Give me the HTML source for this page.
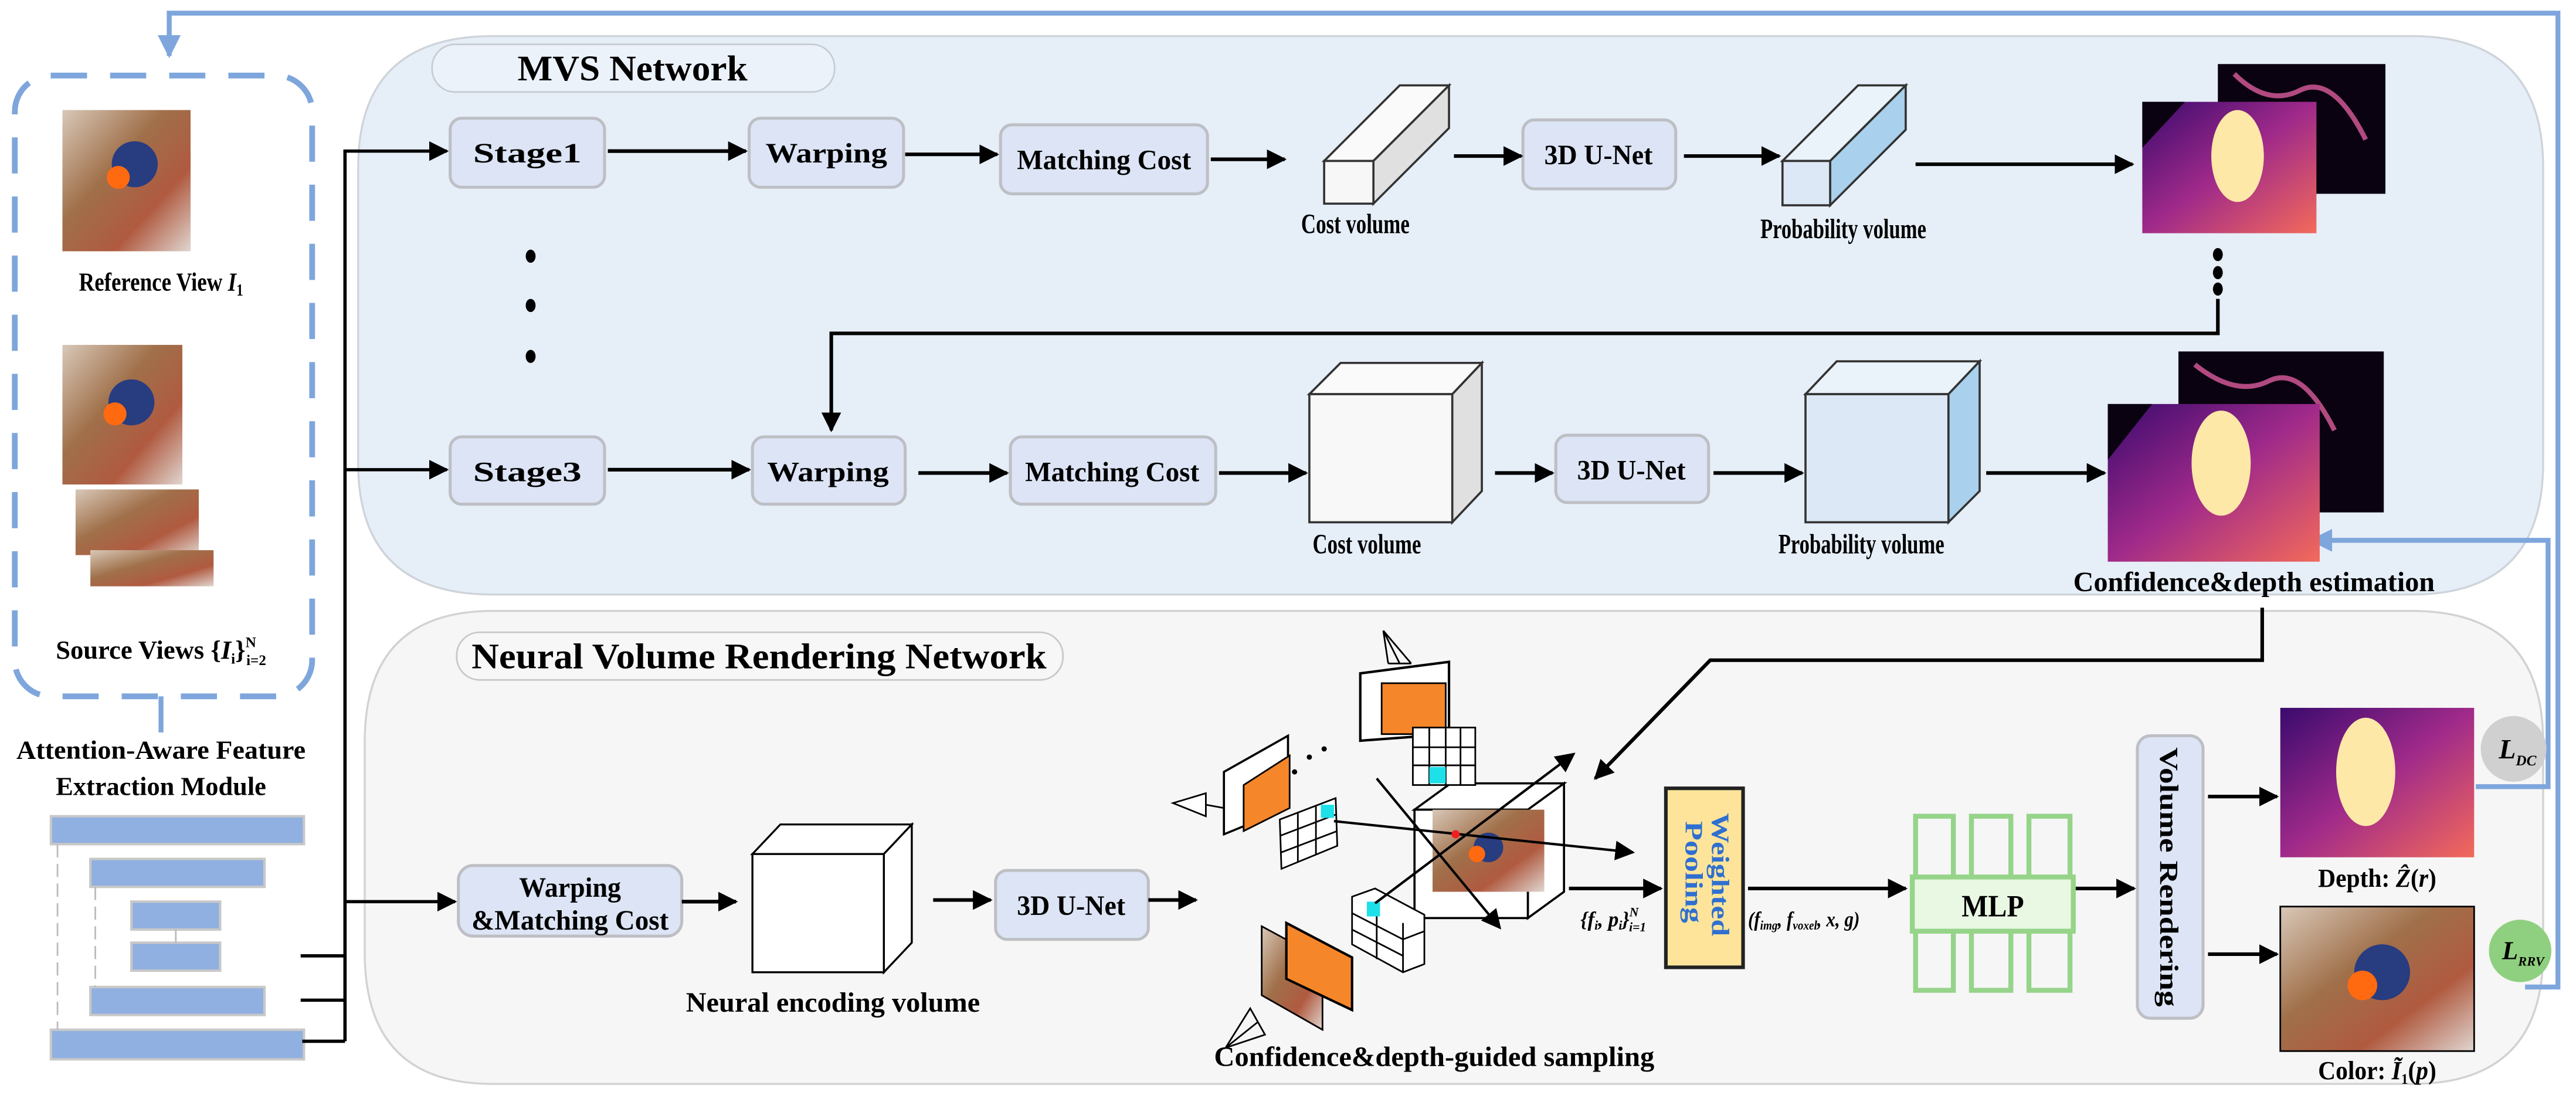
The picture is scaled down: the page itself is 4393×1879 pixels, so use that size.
<!DOCTYPE html>
<html><head><meta charset="utf-8"><style>
html,body{margin:0;padding:0;background:#fff}
svg{display:block}
text{font-family:"Liberation Serif",serif;font-weight:bold;fill:#000}
</style></head><body>
<svg width="4393" height="1879" viewBox="0 0 1568 671" preserveAspectRatio="none" xmlns="http://www.w3.org/2000/svg">
<defs>
<marker id="a" viewBox="0 0 10 10" refX="9" refY="5" markerWidth="12" markerHeight="12" orient="auto" markerUnits="userSpaceOnUse"><path d="M0,0L10,5L0,10z" fill="#000"/></marker>
<marker id="ab" viewBox="0 0 10 10" refX="9" refY="5" markerWidth="14" markerHeight="14" orient="auto" markerUnits="userSpaceOnUse"><path d="M0,0L10,5L0,10z" fill="#7ea6dc"/></marker>
<linearGradient id="dm" x1="0" y1="0" x2="1" y2="1"><stop offset="0" stop-color="#3a0a6e"/><stop offset="0.5" stop-color="#a02a8a"/><stop offset="1" stop-color="#f36a5a"/></linearGradient>
<linearGradient id="ph" x1="0" y1="0" x2="1" y2="1"><stop offset="0" stop-color="#d8c8b8"/><stop offset="0.4" stop-color="#a0704a"/><stop offset="0.7" stop-color="#b05a40"/><stop offset="1" stop-color="#e0d6d0"/></linearGradient>
</defs>
<rect width="1568" height="671" fill="#fff"/>
<path d="M300,22 H1468 Q1548,22 1548,102 V282 Q1548,362 1468,362 H300 Q218,362 218,282 V102 Q218,22 300,22Z" fill="#e6eef8" stroke="#cfd4da" stroke-width="1.2"/>
<path d="M300,372 H1468 Q1548,372 1548,452 V580 Q1548,660 1468,660 H300 Q222,660 222,580 V452 Q222,372 300,372Z" fill="#f6f6f6" stroke="#d2d2d2" stroke-width="1.2"/>
<rect x="263" y="27" width="245" height="29" rx="14" fill="#ecf2fa" stroke="#c8ccd2"/>
<text x="385" y="49" font-size="22" text-anchor="middle" textLength="140" lengthAdjust="spacingAndGlyphs">MVS Network</text>
<rect x="278" y="385" width="369" height="29" rx="14" fill="#f7f7f7" stroke="#c8c8c8"/>
<text x="462" y="407" font-size="22" text-anchor="middle" textLength="350" lengthAdjust="spacingAndGlyphs">Neural Volume Rendering Network</text>

<g fill="none" stroke="#7ea6dc" stroke-width="3">
<path d="M1537,601 H1557 V8 H103 V34" marker-end="url(#ab)"/>
<path d="M1507,479 H1551 V329 H1407" marker-end="url(#ab)"/>
</g>

<rect x="9" y="46" width="181" height="378" rx="22" fill="none" stroke="#7ea6dc" stroke-width="3.5" stroke-dasharray="22,14"/>
<line x1="98" y1="424" x2="98" y2="446" stroke="#7ea6dc" stroke-width="3"/>
<rect x="38" y="67" width="78" height="86" fill="url(#ph)"/>
<circle cx="82" cy="100" r="14" fill="#283c80"/><circle cx="72" cy="108" r="7" fill="#ff6a10"/>
<rect x="38" y="210" width="73" height="85" fill="url(#ph)"/>
<circle cx="80" cy="245" r="14" fill="#283c80"/><circle cx="70" cy="252" r="7" fill="#ff6a10"/>
<rect x="46" y="298" width="75" height="40" fill="url(#ph)"/>
<rect x="55" y="335" width="75" height="22" fill="url(#ph)"/>
<text x="98" y="177" font-size="16" text-anchor="middle" textLength="100" lengthAdjust="spacingAndGlyphs">Reference View <tspan font-style="italic">I</tspan><tspan font-size="10" dy="3">1</tspan></text>
<text x="98" y="401" font-size="16" text-anchor="middle" textLength="128" lengthAdjust="spacingAndGlyphs">Source Views {<tspan font-style="italic">I</tspan><tspan font-size="9" dy="3">i</tspan><tspan dy="-3">}</tspan><tspan font-size="9" dy="-7">N</tspan><tspan font-size="9" dx="-6" dy="11">i=2</tspan></text>
<text x="98" y="462" font-size="16" text-anchor="middle" textLength="176" lengthAdjust="spacingAndGlyphs">Attention-Aware Feature</text>
<text x="98" y="484" font-size="16" text-anchor="middle" textLength="128" lengthAdjust="spacingAndGlyphs">Extraction Module</text>
<g fill="#8fb0e0" stroke="#c8c8c8" stroke-width="1.5">
<rect x="31" y="497" width="154" height="17"/>
<rect x="55" y="523" width="106" height="17"/>
<rect x="80" y="549" width="54" height="17"/>
<rect x="80" y="574" width="54" height="17"/>
<rect x="55" y="601" width="106" height="17"/>
<rect x="31" y="627" width="154" height="18"/>
</g>
<g stroke="#bbb" stroke-width="1" stroke-dasharray="8,4">
<line x1="35" y1="514" x2="35" y2="627"/><line x1="58" y1="540" x2="58" y2="601"/>
</g>
<line x1="107" y1="566" x2="107" y2="574" stroke="#bbb"/>

<g stroke="#000" stroke-width="2" fill="none">
<path d="M210,634 V92 H272" marker-end="url(#a)"/>
<path d="M210,286 H272" marker-end="url(#a)"/>
<path d="M210,549 H277" marker-end="url(#a)"/>
<line x1="184" y1="634" x2="210" y2="634"/>
<line x1="183" y1="609" x2="210" y2="609"/>
<line x1="183" y1="582" x2="210" y2="582"/>
</g>

<g fill="#dce4f5" stroke="#bdbfc4" stroke-width="1.8">
<rect x="274" y="72" width="94" height="42" rx="7"/>
<rect x="456" y="72" width="94" height="42" rx="7"/>
<rect x="609" y="76" width="126" height="42" rx="7"/>
<rect x="274" y="266" width="94" height="41" rx="7"/>
<rect x="458" y="266" width="93" height="41" rx="7"/>
<rect x="615" y="266" width="125" height="41" rx="7"/>
<rect x="927" y="73" width="93" height="42" rx="7"/>
<rect x="947" y="265" width="93" height="41" rx="7"/>
<rect x="279" y="527" width="136" height="43" rx="9"/>
<rect x="606" y="530" width="93" height="42" rx="7"/>
<rect x="1301" y="448" width="40" height="172" rx="8"/>
</g>
<g font-size="17" text-anchor="middle">
<text x="321" y="99" textLength="66" lengthAdjust="spacingAndGlyphs">Stage1</text>
<text x="503" y="99" textLength="74" lengthAdjust="spacingAndGlyphs">Warping</text>
<text x="672" y="103" textLength="106" lengthAdjust="spacingAndGlyphs">Matching Cost</text>
<text x="321" y="293" textLength="66" lengthAdjust="spacingAndGlyphs">Stage3</text>
<text x="504" y="293" textLength="74" lengthAdjust="spacingAndGlyphs">Warping</text>
<text x="677" y="293" textLength="106" lengthAdjust="spacingAndGlyphs">Matching Cost</text>
<text x="973" y="100" textLength="66" lengthAdjust="spacingAndGlyphs">3D U-Net</text>
<text x="993" y="292" textLength="66" lengthAdjust="spacingAndGlyphs">3D U-Net</text>
<text x="347" y="546" textLength="62" lengthAdjust="spacingAndGlyphs">Warping</text>
<text x="347" y="566" textLength="120" lengthAdjust="spacingAndGlyphs">&amp;Matching Cost</text>
<text x="652" y="557" textLength="66" lengthAdjust="spacingAndGlyphs">3D U-Net</text>
<text x="0" y="0" transform="translate(1315,534) rotate(90)" textLength="158" lengthAdjust="spacingAndGlyphs" font-size="16">Volume Rendering</text>
</g>

<g fill="#000"><ellipse cx="323" cy="156" rx="3" ry="4"/><ellipse cx="323" cy="186" rx="3" ry="4"/><ellipse cx="323" cy="217" rx="3" ry="4"/>
<ellipse cx="1350" cy="155" rx="3" ry="4"/><ellipse cx="1350" cy="166" rx="3" ry="4"/><ellipse cx="1350" cy="176" rx="3" ry="4"/></g>

<g stroke="#000" stroke-width="2.2" fill="none">
<path d="M370,92 H454" marker-end="url(#a)"/>
<path d="M551,94 H607" marker-end="url(#a)"/>
<path d="M737,97 H782" marker-end="url(#a)"/>
<path d="M885,95 H926" marker-end="url(#a)"/>
<path d="M1025,95 H1083" marker-end="url(#a)"/>
<path d="M1166,100 H1298" marker-end="url(#a)"/>
<path d="M370,286 H456" marker-end="url(#a)"/>
<path d="M559,288 H613" marker-end="url(#a)"/>
<path d="M742,288 H795" marker-end="url(#a)"/>
<path d="M910,288 H945" marker-end="url(#a)"/>
<path d="M1043,288 H1097" marker-end="url(#a)"/>
<path d="M1209,288 H1281" marker-end="url(#a)"/>
<path d="M1350,182 V203 H506 V262" marker-end="url(#a)"/>
</g>

<g stroke="#333" stroke-width="1.3">
<polygon points="806,98 852,52 882,52 836,98" fill="#fafafa"/>
<polygon points="836,98 882,52 882,78 836,124" fill="#e0e0e0"/>
<rect x="806" y="98" width="30" height="26" fill="#f7f7f7"/>
<polygon points="1085,98 1131,52 1160,52 1114,98" fill="#eaf2fa"/>
<polygon points="1114,98 1160,52 1160,79 1114,125" fill="#a9d0ec"/>
<rect x="1085" y="98" width="29" height="27" fill="#dce8f5"/>
<polygon points="797,240 816,221 902,221 884,240" fill="#fafafa"/>
<polygon points="884,240 902,221 902,299 884,318" fill="#e0e0e0"/>
<rect x="797" y="240" width="87" height="78" fill="#f8f8f8"/>
<polygon points="1099,240 1118,220 1205,220 1186,240" fill="#eaf2fa"/>
<polygon points="1186,240 1205,220 1205,299 1186,318" fill="#a9d0ec"/>
<rect x="1099" y="240" width="87" height="78" fill="#dce8f5"/>
</g>
<g stroke="#000" stroke-width="1.2" fill="#fff">
<polygon points="458,520 475,502 555,502 538,520"/>
<polygon points="538,520 555,502 555,574 538,592"/>
<rect x="458" y="520" width="80" height="72"/>
</g>
<g font-size="17" text-anchor="middle">
<text x="825" y="142" textLength="66" lengthAdjust="spacingAndGlyphs">Cost volume</text>
<text x="1122" y="145" textLength="101" lengthAdjust="spacingAndGlyphs">Probability volume</text>
<text x="832" y="337" textLength="66" lengthAdjust="spacingAndGlyphs">Cost volume</text>
<text x="1133" y="337" textLength="101" lengthAdjust="spacingAndGlyphs">Probability volume</text>
<text x="1372" y="360" textLength="220" lengthAdjust="spacingAndGlyphs">Confidence&amp;depth estimation</text>
<text x="507" y="616" textLength="179" lengthAdjust="spacingAndGlyphs">Neural encoding volume</text>
</g>

<rect x="1350" y="39" width="102" height="79" fill="#0a0210"/>
<path d="M1360,45 q20,20 40,10 t40,30" stroke="#b04a80" stroke-width="3" fill="none"/>
<rect x="1304" y="62" width="106" height="80" fill="url(#dm)"/>
<polygon points="1304,62 1330,62 1304,90" fill="#0a0210"/>
<ellipse cx="1362" cy="95" rx="16" ry="28" fill="#fde8a8"/>
<rect x="1326" y="214" width="125" height="98" fill="#0a0210"/>
<path d="M1336,222 q25,20 45,10 t40,30" stroke="#b04a80" stroke-width="3" fill="none"/>
<rect x="1283" y="246" width="129" height="96" fill="url(#dm)"/>
<polygon points="1283,246 1310,246 1283,280" fill="#0a0210"/>
<ellipse cx="1352" cy="282" rx="18" ry="32" fill="#fde8a8"/>

<g stroke="#000" stroke-width="1.3" fill="#fff">
<polygon points="861,493 883,477 952,477 930,493"/>
<polygon points="930,493 952,477 952,543 930,559"/>
<rect x="861" y="493" width="69" height="66"/>
</g>
<rect x="872" y="493" width="68" height="50" fill="url(#ph)"/>
<circle cx="906" cy="516" r="9" fill="#283c80"/><circle cx="899" cy="520" r="5" fill="#ff6a10"/>
<polygon points="828,410 882,403 882,447 828,451" fill="#fff" stroke="#000" stroke-width="1.5"/>
<rect x="841" y="416" width="39" height="31" fill="#f5862a" stroke="#000"/>
<path d="M842,384 L845,404 M842,384 L859,404 M842,384 L852,404 M845,404 H859" stroke="#000" fill="none"/>
<g stroke="#000" fill="#fff" stroke-width="1">
<rect x="860" y="443" width="38" height="35"/>
<path d="M860,455 H898 M860,466 H898 M870,443 V478 M880,443 V478 M889,443 V478"/>
</g>
<rect x="870" y="467" width="10" height="10" fill="#1ee0e8"/>
<polygon points="745,470 784,448 784,492 745,508" fill="#fff" stroke="#000" stroke-width="1.3"/>
<polygon points="757,478 785,460 785,492 757,506" fill="#f5862a" stroke="#000"/>
<path d="M714,489 L734,483 L734,497 Z M734,490 L745,492" stroke="#000" fill="#fff"/>
<polygon points="779,499 813,486 814,515 780,529" fill="#fff" stroke="#000"/>
<path d="M779,509 L813,496 M780,519 L814,506 M790,495 V525 M801,491 V520" stroke="#000"/>
<rect x="804" y="490" width="8" height="8" fill="#1ee0e8"/>
<circle cx="788" cy="470" r="1.6" fill="#000"/><circle cx="797" cy="461" r="1.6" fill="#000"/><circle cx="806" cy="456" r="1.6" fill="#000"/>
<polygon points="768,564 805,584 805,627 768,606" fill="url(#ph)" stroke="#000"/>
<polygon points="783,562 823,583 823,615 783,596" fill="#f5862a" stroke="#000" stroke-width="1.5"/>
<polygon points="823,546 837,541 867,557 867,587 854,592 823,575" fill="#fff" stroke="#000"/>
<path d="M823,556 L854,572 L867,567 M823,566 L854,582 M838,551 V584 M854,562 V592" stroke="#000" fill="none"/>
<rect x="832" y="549" width="8" height="9" fill="#1ee0e8"/>
<path d="M746,638 L761,614 L770,630 Z M746,638 L766,622" stroke="#000" fill="none"/>
<g stroke="#000" stroke-width="1.5" fill="none">
<path d="M838,474 L913,565" marker-end="url(#a)"/>
<path d="M812,500 L994,519" marker-end="url(#a)"/>
<path d="M837,550 L958,459" marker-end="url(#a)"/>
</g>
<circle cx="886" cy="508" r="2.5" fill="#f02020"/>
<text x="873" y="649" font-size="17" text-anchor="middle" textLength="268" lengthAdjust="spacingAndGlyphs">Confidence&amp;depth-guided sampling</text>
<g stroke="#000" stroke-width="2.2" fill="none">
<path d="M1377,370 V402 H1041 L971,474" marker-end="url(#a)"/>
<path d="M955,541 H1011" marker-end="url(#a)"/>
<path d="M1064,541 H1160" marker-end="url(#a)"/>
<path d="M699,548 H728" marker-end="url(#a)"/>
<path d="M415,549 H448" marker-end="url(#a)"/>
<path d="M568,548 H603" marker-end="url(#a)"/>
<path d="M1263,541 H1299" marker-end="url(#a)"/>
<path d="M1344,485 H1386" marker-end="url(#a)"/>
<path d="M1344,581 H1386" marker-end="url(#a)"/>
</g>
<text x="982" y="564" font-size="13" text-anchor="middle" font-style="italic" font-weight="normal" textLength="40" lengthAdjust="spacingAndGlyphs">{f<tspan font-size="8" dy="2">i</tspan><tspan dy="-2">, p</tspan><tspan font-size="8" dy="2">i</tspan><tspan dy="-2">}</tspan><tspan font-size="8" dy="-6">N</tspan><tspan font-size="8" dx="-6" dy="9">i=1</tspan></text>
<text x="1098" y="564" font-size="13" text-anchor="middle" font-style="italic" font-weight="normal" textLength="68" lengthAdjust="spacingAndGlyphs">(f<tspan font-size="8" dy="2">img</tspan><tspan dy="-2">, f</tspan><tspan font-size="8" dy="2">voxel</tspan><tspan dy="-2">, x, g)</tspan></text>
<rect x="1014" y="480" width="47" height="109" fill="#fde49a" stroke="#222" stroke-width="2.2"/>
<text transform="translate(1042,495) rotate(90)" font-size="15" style="fill:#2f6fd0" textLength="75" lengthAdjust="spacingAndGlyphs">Weighted</text>
<text transform="translate(1026,500) rotate(90)" font-size="15" style="fill:#2f6fd0" textLength="62" lengthAdjust="spacingAndGlyphs">Pooling</text>
<g fill="none" stroke="#96d48a" stroke-width="3">
<rect x="1166" y="497" width="23" height="106"/>
<rect x="1200" y="497" width="24" height="106"/>
<rect x="1235" y="497" width="25" height="106"/>
</g>
<rect x="1164" y="534" width="98" height="33" fill="#e8f8e2" stroke="#96d48a" stroke-width="3"/>
<text x="1213" y="558" font-size="19" text-anchor="middle" textLength="38" lengthAdjust="spacingAndGlyphs">MLP</text>
<rect x="1388" y="431" width="118" height="91" fill="url(#dm)"/>
<ellipse cx="1440" cy="470" rx="18" ry="33" fill="#fde8a8"/>
<text x="1447" y="540" font-size="16" text-anchor="middle" textLength="72" lengthAdjust="spacingAndGlyphs">Depth: <tspan font-style="italic">Ẑ</tspan>(<tspan font-style="italic">r</tspan>)</text>
<rect x="1388" y="552" width="118" height="88" fill="url(#ph)" stroke="#000"/>
<circle cx="1450" cy="592" r="17" fill="#283c80"/><circle cx="1438" cy="600" r="9" fill="#ff6a10"/>
<text x="1447" y="657" font-size="16" text-anchor="middle" textLength="72" lengthAdjust="spacingAndGlyphs">Color: <tspan font-style="italic">Ĩ</tspan><tspan font-size="9" dy="3">1</tspan><tspan dy="-3">(</tspan><tspan font-style="italic">p</tspan>)</text>
<circle cx="1530" cy="456" r="20" fill="#d0d0d0"/>
<text x="1521" y="462" font-size="17" font-style="italic" font-weight="normal">L<tspan font-size="9" dy="4">DC</tspan></text>
<circle cx="1534" cy="579" r="19" fill="#8fd080"/>
<text x="1523" y="584" font-size="16" font-style="italic" font-weight="normal">L<tspan font-size="8" dy="4">RRV</tspan></text>
</svg>
</body></html>
